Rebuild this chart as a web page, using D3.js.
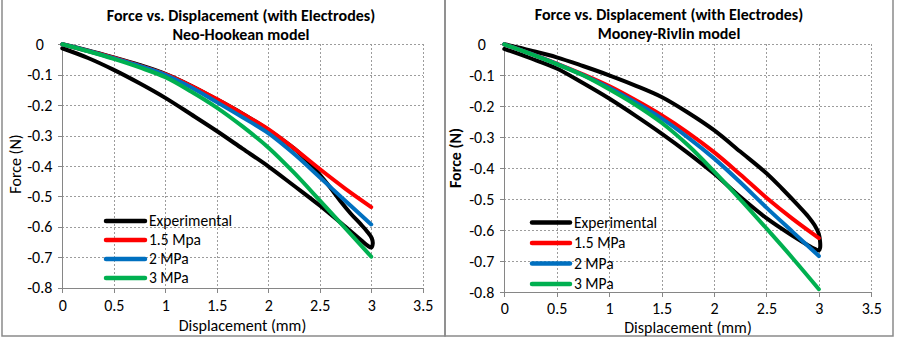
<!doctype html>
<html>
<head>
<meta charset="utf-8">
<title>Force vs. Displacement (with Electrodes)</title>
<script src="https://cdn.jsdelivr.net/npm/d3@7/dist/d3.min.js"></script>
<style>
body {
  margin: 0;
  background: #fff;
  font-family: Carlito, Calibri, Lato, sans-serif;
}
.grid line {
  stroke: #9c9c9c;
  stroke-dasharray: 2,2;
  shape-rendering: crispEdges;
}
.axis path, .axis line {
  stroke: #868686;
  shape-rendering: crispEdges;
}
.axis text {
  font-family: Carlito, Calibri, Lato, sans-serif;
  font-size: 16px;
  fill: #000;
}
.title {
  font-size: 16px;
  font-weight: bold;
  text-anchor: middle;
}
.axtitle { font-size: 16px; text-anchor: middle; }
.legend text { font-size: 15.5px; }
.curve { fill: none; stroke-width: 4; stroke-linejoin: round; stroke-linecap: round; }
</style>
</head>
<body>
<div id="chart"></div>
<script>
// displacement (mm) used by the model curves
var disp = [0, 0.25, 0.5, 0.75, 1, 1.25, 1.5, 1.75, 2, 2.25, 2.5, 2.75, 3];

// Neo-Hookean model, force (N)
var nhRed   = [0, -0.022, -0.044, -0.07, -0.098, -0.136, -0.18, -0.228, -0.279, -0.342, -0.41, -0.475, -0.535];
var nhBlue  = [0, -0.022, -0.046, -0.071, -0.1, -0.141, -0.19, -0.24, -0.292, -0.36, -0.437, -0.515, -0.592];
var nhGreen = [0, -0.023, -0.048, -0.076, -0.108, -0.155, -0.208, -0.27, -0.339, -0.422, -0.513, -0.605, -0.698];
// experimental loop, loading then unloading
var nhExpX = [0, 0.25, 0.5, 0.75, 1, 1.25, 1.5, 1.75, 2, 2.25, 2.5, 2.75, 2.9, 2.97, 3.0, 3.015, 3.005, 2.96, 2.9, 2.8, 2.7, 2.6, 2.5, 2.4, 2.25, 2, 1.75, 1.5, 1.25, 1, 0.75, 0.5, 0.25, 0];
var nhExpF = [-0.013, -0.045, -0.084, -0.128, -0.176, -0.23, -0.285, -0.343, -0.401, -0.465, -0.53, -0.6, -0.643, -0.663, -0.668, -0.655, -0.637, -0.615, -0.592, -0.556, -0.515, -0.47, -0.428, -0.39, -0.342, -0.281, -0.228, -0.181, -0.136, -0.097, -0.068, -0.043, -0.02, 0];

// Mooney-Rivlin model, force (N)
var mrRed   = [0, -0.03, -0.062, -0.097, -0.135, -0.18, -0.229, -0.285, -0.348, -0.42, -0.495, -0.563, -0.625];
var mrBlue  = [0, -0.03, -0.063, -0.099, -0.14, -0.187, -0.239, -0.3, -0.368, -0.445, -0.527, -0.605, -0.683];
var mrGreen = [0, -0.031, -0.064, -0.1, -0.145, -0.195, -0.253, -0.325, -0.41, -0.5, -0.594, -0.69, -0.79];
var mrExpX = [0, 0.25, 0.5, 0.75, 1, 1.25, 1.5, 1.75, 2, 2.25, 2.5, 2.75, 2.88, 2.96, 3.0, 3.012, 3.012, 3.0, 2.96, 2.9, 2.8, 2.65, 2.5, 2.25, 2, 1.75, 1.5, 1.25, 1, 0.75, 0.5, 0.25, 0];
var mrExpF = [-0.015, -0.045, -0.078, -0.125, -0.175, -0.23, -0.288, -0.35, -0.417, -0.492, -0.561, -0.618, -0.645, -0.66, -0.665, -0.656, -0.638, -0.612, -0.584, -0.556, -0.519, -0.466, -0.416, -0.346, -0.277, -0.22, -0.17, -0.133, -0.1, -0.07, -0.042, -0.02, 0];

var xTicks = [0, 0.5, 1, 1.5, 2, 2.5, 3, 3.5];
var yTicks = [0, -0.1, -0.2, -0.3, -0.4, -0.5, -0.6, -0.7, -0.8];
var nhLegend = ['Experimental', '1.5 Mpa', '2 MPa', '3 MPa'];
var mrLegend = ['Experimental', '1.5 MPa', '2 MPa', '3 MPa'];
var colors = ['#000000', '#ff0000', '#0070c0', '#00b050'];

var W = 900, H = 340;
var svg = d3.select('#chart').append('svg')
  .attr('width', W)
  .attr('height', H);

svg.append('rect').attr('width', W).attr('height', H).attr('fill', '#fff');

function panel(o) {
  var g = svg.append('g');

  g.append('rect')
    .attr('x', o.box[0]).attr('y', o.box[1])
    .attr('width', o.box[2]).attr('height', o.box[3])
    .attr('fill', 'none').attr('stroke', '#8a8a8a').attr('stroke-width', 1.5);

  var x = d3.scaleLinear().domain([0, 3.5]).range([o.left, o.right]);
  var y = d3.scaleLinear().domain([0, -0.8]).range([o.top, o.bottom]);

  // dotted grid
  var grid = g.append('g').attr('class', 'grid');
  grid.selectAll('.v').data(xTicks.slice(1)).enter().append('line')
    .attr('x1', d => Math.round(x(d)) + 0.5).attr('x2', d => Math.round(x(d)) + 0.5)
    .attr('y1', o.top).attr('y2', o.bottom);
  grid.selectAll('.h').data(yTicks.slice(0, -1)).enter().append('line')
    .attr('y1', d => Math.round(y(d)) + 0.5).attr('y2', d => Math.round(y(d)) + 0.5)
    .attr('x1', o.left).attr('x2', o.right);

  // axes
  g.append('g').attr('class', 'axis')
    .attr('transform', 'translate(0,' + o.bottom + ')')
    .call(d3.axisBottom(x).tickValues(xTicks).tickSize(5).tickSizeOuter(0).tickPadding(o.xPad)
      .tickFormat(d => String(d)));

  var ya = g.append('g').attr('class', 'axis')
    .attr('transform', 'translate(' + o.left + ',0)')
    .call(d3.axisLeft(y).tickValues(yTicks).tickSize(4).tickSizeOuter(0)
      .tickFormat(d => d === 0 ? '0' : String(d)));
  ya.selectAll('text').attr('text-anchor', 'middle').attr('x', -22.5);

  // curves
  var line = d3.line()
    .x(d => x(d[0])).y(d => y(d[1]))
    .curve(d3.curveCatmullRom.alpha(0.5));

  var series = [
    d3.zip(o.expX, o.expF),
    d3.zip(disp, o.red),
    d3.zip(disp, o.blue),
    d3.zip(disp, o.green)
  ];
  g.selectAll('.curve').data(series).enter().append('path')
    .attr('class', 'curve')
    .attr('stroke', (d, i) => colors[i])
    .attr('d', line);

  // titles
  g.append('text').attr('class', 'title')
    .attr('x', o.titleX).attr('y', o.titleY)
    .text('Force vs. Displacement (with Electrodes)');
  g.append('text').attr('class', 'title')
    .attr('x', o.titleX).attr('y', o.titleY + 19.5)
    .text(o.subtitle);

  g.append('text').attr('class', 'axtitle')
    .attr('x', o.xTitle[0]).attr('y', o.xTitle[1])
    .text('Displacement (mm)');
  g.append('text').attr('class', 'axtitle')
    .attr('transform', 'translate(' + o.yTitle[0] + ',' + o.yTitle[1] + ') rotate(-90)')
    .attr('font-weight', o.yBold ? 'bold' : 'normal')
    .text('Force (N)');

  // legend
  var lg = g.append('g').attr('class', 'legend');
  var rows = lg.selectAll('g').data(o.legend).enter().append('g')
    .attr('transform', (d, i) => 'translate(' + o.legX + ',' + (o.legY + i * o.legStep) + ')');
  rows.append('line')
    .attr('x1', 0).attr('x2', o.legLen)
    .attr('stroke', (d, i) => colors[i])
    .attr('stroke-width', 4.5)
    .attr('stroke-linecap', 'round');
  rows.append('text')
    .attr('x', o.legLen + 4).attr('dy', '0.35em')
    .text(d => d);
}

panel({
  box: [2, -1, 443, 337],
  left: 62.3, right: 422.7, top: 44.3, bottom: 287.7, xPad: 7,
  red: nhRed, blue: nhBlue, green: nhGreen, expX: nhExpX, expF: nhExpF,
  subtitle: 'Neo-Hookean model', titleX: 241, titleY: 20.5,
  xTitle: [242.5, 331], yTitle: [21, 164], yBold: false,
  legend: nhLegend, legX: 106, legY: 221, legStep: 19, legLen: 39
});

panel({
  box: [445, -1, 448, 337],
  left: 504.3, right: 871.3, top: 44.3, bottom: 292.3, xPad: 5,
  red: mrRed, blue: mrBlue, green: mrGreen, expX: mrExpX, expF: mrExpF,
  subtitle: 'Mooney-Rivlin model', titleX: 669, titleY: 19.5,
  xTitle: [688, 333], yTitle: [461, 158], yBold: true,
  legend: mrLegend, legX: 532, legY: 222.5, legStep: 20.5, legLen: 38
});
</script>
</body>
</html>
